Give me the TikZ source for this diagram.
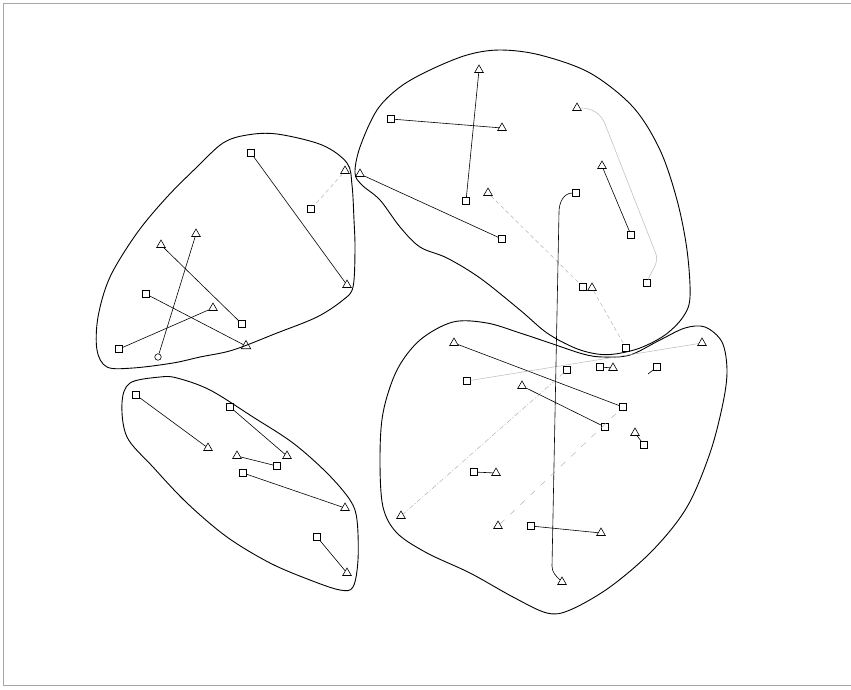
\documentclass[tikz,border=0pt]{standalone}
\usetikzlibrary{shapes.geometric}

\begin{document}
\begin{tikzpicture}[
    x=1pt, y=-1pt,
    sq/.style={rectangle, draw, line width=0.6pt, minimum size=6.5pt, inner sep=0pt},
    tri/.style={regular polygon, regular polygon sides=3, draw, line width=0.6pt, minimum size=10pt, inner sep=0pt},
    circ/.style={circle, draw, line width=0.6pt, minimum size=6.5pt, inner sep=0pt},
    blob/.style={line width=0.9pt},
    link/.style={line width=0.6pt},
    faint/.style={line width=0.5pt, gray!55},
    dotlink/.style={line width=0.5pt, gray!60, dash pattern=on 4pt off 3pt},
    dashdot/.style={line width=0.5pt, gray!60, dash pattern=on 5pt off 2pt on 1pt off 2pt},
    border/.style={line width=0.6pt, gray!70}
]

\useasboundingbox (0,0) rectangle (851,689);

% ============ FRAME ============
\draw[border] (851,3) -- (3,3) -- (3,685) -- (851,685);

% ============ CLUSTER OUTLINES ============
\draw[blob] plot[smooth cycle, tension=0.55] coordinates {
    (247,135) (277,134) (322,145) (347,163) (352,185) (354,220) (355,250)
    (353,287) (343,300) (317,317) (277,333) (233,350) (200,357) (173,363)
    (133,368) (107,367) (97,350) (98,317) (110,277) (137,233) (167,197)
    (197,167) (223,143)};

\draw[blob] plot[smooth cycle, tension=0.55] coordinates {
    (160,377) (177,378) (210,390) (253,417) (293,443) (327,473) (350,500)
    (357,520) (358,560) (353,587) (340,590) (310,580) (270,563) (227,537)
    (187,503) (153,467) (127,437) (122,403) (130,383)};

\draw[blob] plot[smooth cycle, tension=0.55] coordinates {
    (355,173) (360,147) (377,110) (400,87) (430,70) (467,55) (500,50)
    (540,55) (590,73) (633,107) (660,150) (677,200) (687,250) (690,297)
    (683,317) (665,335) (640,348) (615,354) (597,354) (575,348) (547,333)
    (520,310) (480,278) (447,258) (420,247) (400,227) (380,200) (362,185)};

\draw[blob] plot[smooth cycle, tension=0.55] coordinates {
    (487,323) (453,322) (420,340) (397,370) (383,413) (380,460) (383,507)
    (397,533) (427,553) (470,573) (513,597) (547,613) (570,610) (610,587)
    (653,550) (687,507) (710,453) (723,403) (727,370) (722,342) (705,327)
    (685,328) (660,340) (630,355) (603,357) (583,354) (550,343) (520,333)};

% ============ LEFT CLUSTER ============
\node[sq] (lf_sq1) at (251,153) {};
\node[tri] (lf_tri1) at (347,285) {};
\node[tri] (lf_tri2) at (345,171) {};
\node[sq] (lf_sq2) at (311,209) {};
\node[tri] (lf_tri3) at (161,245) {};
\node[sq] (lf_sq3) at (242,324) {};
\node[tri] (lf_tri4) at (196,234) {};
\node[circ] (lf_circ4) at (158,357) {};
\node[sq] (lf_sq5) at (146,294) {};
\node[tri, minimum size=11pt] (lf_tri5) at (246,346) {};
\node[sq] (lf_sq6) at (119,349) {};
\node[tri] (lf_tri6) at (213,308) {};

\draw[link] (lf_sq1) -- (lf_tri1);
\draw[dotlink] (lf_tri2) -- (lf_sq2);
\draw[link] (lf_tri3) -- (lf_sq3);
\draw[link] (lf_tri4) -- (lf_circ4);
\draw[link] (lf_sq5) -- (lf_tri5);
\draw[link] (lf_sq6) -- (lf_tri6);

% ============ BOTTOM LEFT CLUSTER ============
\node[sq] (bl_sq1) at (136,395) {};
\node[tri] (bl_tri1) at (208,448) {};
\node[sq] (bl_sq2) at (230,407) {};
\node[tri] (bl_tri2) at (287,456) {};
\node[tri] (bl_tri3) at (237,456) {};
\node[sq] (bl_sq3) at (277,466) {};
\node[sq] (bl_sq4) at (243,473) {};
\node[tri] (bl_tri4) at (345,508) {};
\node[sq] (bl_sq5) at (317,537) {};
\node[tri] (bl_tri5) at (347,573) {};

\draw[link] (bl_sq1) -- (bl_tri1);
\draw[link] (bl_sq2) -- (bl_tri2);
\draw[link] (bl_tri3) -- (bl_sq3);
\draw[link] (bl_sq4) -- (bl_tri4);
\draw[link] (bl_sq5) -- (bl_tri5);

% ============ TOP RIGHT CLUSTER ============
\node[tri] (tr_tri1) at (479,70) {};
\node[sq] (tr_sq1) at (466,201) {};
\node[sq] (tr_sq2) at (391,119) {};
\node[tri] (tr_tri2) at (502,128) {};
\node[tri] (tr_tri3) at (360,174) {};
\node[sq] (tr_sq3) at (502,239) {};
\node[tri] (tr_tri4) at (488,193) {};
\node[sq] (tr_sq4) at (583,287) {};
\node[tri] (tr_tri5) at (577,108) {};
\node[sq] (tr_sq5) at (647,283) {};
\node[tri] (tr_tri6) at (602,166) {};
\node[sq] (tr_sq6) at (631,235) {};
\node[sq] (tr_sq7) at (576,193) {};
\node[tri] (tr_tri8) at (592,288) {};
\node[sq] (tr_sq8) at (626,348) {};

\draw[link] (tr_tri1) -- (tr_sq1);
\draw[link] (tr_sq2) -- (tr_tri2);
\draw[link] (tr_tri3) -- (tr_sq3);
\draw[dotlink] (tr_tri4) -- (tr_sq4);
\draw[faint] (tr_tri5) to[out=0,in=111] (605,124) -- (656,254) to[out=-75,in=70] (tr_sq5);
\draw[link] (tr_tri6) -- (tr_sq6);
\draw[dotlink] (tr_tri8) -- (tr_sq8);

% ============ BOTTOM RIGHT CLUSTER ============
\node[tri] (br_tri1) at (454,343) {};
\node[sq] (br_sq1) at (623,407) {};
\node[sq] (br_sq2) at (467,381) {};
\node[tri] (br_tri2) at (702,343) {};
\node[sq] (br_sq3) at (567,370) {};
\node[tri] (br_tri3) at (401,516) {};
\node[sq] (br_sq4) at (600,367) {};
\node[tri] (br_tri4) at (613,368) {};
\node[sq] (br_sq5) at (657,367) {};
\coordinate (br_free5) at (648,374);
\node[tri] (br_tri6) at (522,386) {};
\node[sq] (br_sq6) at (605,427) {};
\node[tri] (br_tri7) at (635,433) {};
\node[sq] (br_sq7) at (644,445) {};
\node[sq] (br_sq8) at (474,472) {};
\node[tri] (br_tri8) at (496,473) {};
\node[tri] (br_tri9) at (562,582) {};
\node[tri] (br_tri10) at (498,526) {};
\node[sq] (br_sq11) at (531,526) {};
\node[tri] (br_tri11) at (601,533) {};

\draw[link] (br_tri1) -- (br_sq1);
\draw[faint] (br_sq2) -- (br_tri2);
\draw[dashdot] (br_sq3) -- (br_tri3);
\draw[link] (br_sq4) -- (br_tri4);
\draw[link] (br_sq5) -- (br_free5);
\draw[link] (br_tri6) -- (br_sq6);
\draw[link] (br_tri7) -- (br_sq7);
\draw[link] (br_sq8) -- (br_tri8);
\draw[dotlink, dash pattern=on 6pt off 8pt] (br_tri10) -- (br_sq1);
\draw[link] (br_sq11) -- (br_tri11);

% long link across clusters
\draw[link] (tr_sq7) to[out=180,in=90] (559,212) -- (552,566) to[out=-90,in=135] (br_tri9);

\end{tikzpicture}
\end{document}
